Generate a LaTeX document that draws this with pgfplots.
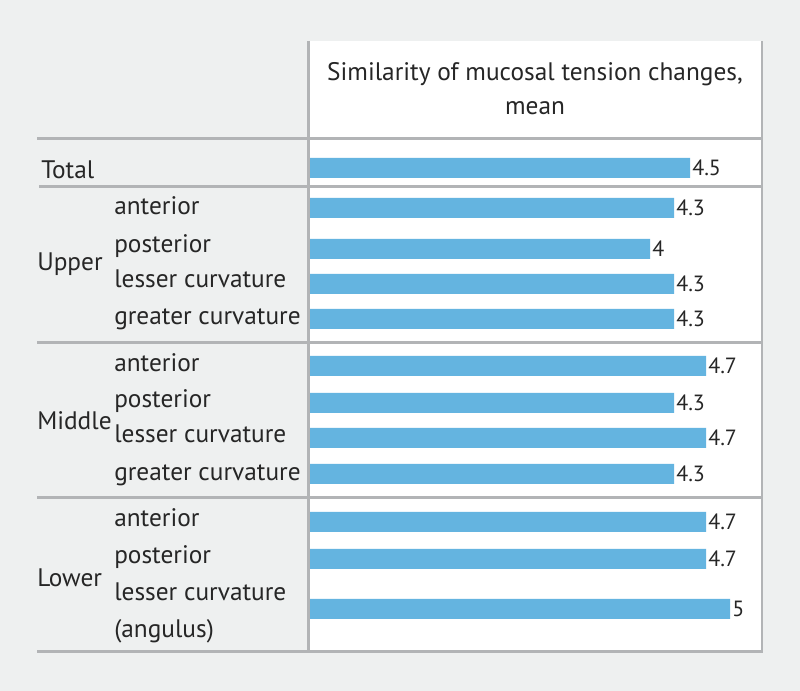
\documentclass[border=0pt]{standalone}
\usepackage{fontspec}
\setmainfont{PT Sans}
\usepackage{pgfplots}
\pgfplotsset{compat=1.18}
\usepackage{pgfplotstable}
\definecolor{bg}{HTML}{EEF0F0}
\definecolor{barblue}{HTML}{64B4E0}
\definecolor{rulegray}{HTML}{B2B4B6}

\pgfplotstableread{
y v
168 4.5
208 4.3
249 4.0
284 4.3
319 4.3
366 4.7
403 4.3
438 4.7
474 4.3
522 4.7
559 4.7
609 5.0
}\bars

\newcommand{\lab}{\fontsize{19}{22}\selectfont}
\newcommand{\vlab}{\fontsize{16.5}{18}\selectfont}

\begin{document}
\begin{tikzpicture}
\begin{axis}[width=600pt, height=518.25pt, scale only axis, hide axis,
  xmin=0, xmax=800, ymin=0, ymax=691, y dir=reverse, clip=false]
\fill[bg] (axis cs:0,0) rectangle (axis cs:800,691);
\fill[white] (axis cs:308,41) rectangle (axis cs:762,650);
\draw[rulegray, line width=1.5pt] (axis cs:762,41) -- (axis cs:762,651);
\draw[rulegray, line width=2.25pt] (axis cs:308,41) -- (axis cs:308,651);
\draw[rulegray, line width=2.25pt] (axis cs:37,139) -- (axis cs:763,139);
\draw[rulegray, line width=2.25pt] (axis cs:39,187) -- (axis cs:763,187);
\draw[rulegray, line width=2.25pt] (axis cs:37,343) -- (axis cs:763,343);
\draw[rulegray, line width=2.25pt] (axis cs:37,498) -- (axis cs:763,498);
\draw[rulegray, line width=2.25pt] (axis cs:37,651) -- (axis cs:763,651);
\node[anchor=base, font=\lab, text=black!85] at (axis cs:535,81) {Similarity of mucosal tension changes,};
\node[anchor=base, font=\lab, text=black!85] at (axis cs:535,115) {mean};
\begin{scope}[every node/.style={anchor=base west, inner sep=0pt, font=\lab, text=black!85}]
\node at (axis cs:41,179) {Total};
\node at (axis cs:37,271) {Upper};
\node at (axis cs:37,430) {Middle};
\node at (axis cs:37,586) {Lower};
\node at (axis cs:114,215) {anterior};
\node at (axis cs:114,253) {posterior};
\node at (axis cs:114,288) {lesser curvature};
\node at (axis cs:114,325) {greater curvature};
\node at (axis cs:114,372) {anterior};
\node at (axis cs:114,408) {posterior};
\node at (axis cs:114,443) {lesser curvature};
\node at (axis cs:114,480) {greater curvature};
\node at (axis cs:114,527) {anterior};
\node at (axis cs:114,563) {posterior};
\node at (axis cs:114,600) {lesser curvature};
\node at (axis cs:114,637) {(angulus)};
\end{scope}
\end{axis}
\begin{axis}[width=600pt, height=518.25pt, scale only axis, hide axis,
  xmin=-3.875, xmax=6.125, ymin=0, ymax=691, y dir=reverse, clip=false,
  xbar, bar width=15pt, point meta=explicit,
  nodes near coords={\pgfmathprintnumber[assume math mode=true]{\pgfplotspointmeta}},
  nodes near coords style={font=\vlab, text=black!85, inner sep=1.5pt, anchor=west}]
\addplot[fill=barblue, draw=none] table[x expr=\thisrow{v}+0.25, y=y, meta=v] {\bars};
\end{axis}
\end{tikzpicture}
\end{document}
